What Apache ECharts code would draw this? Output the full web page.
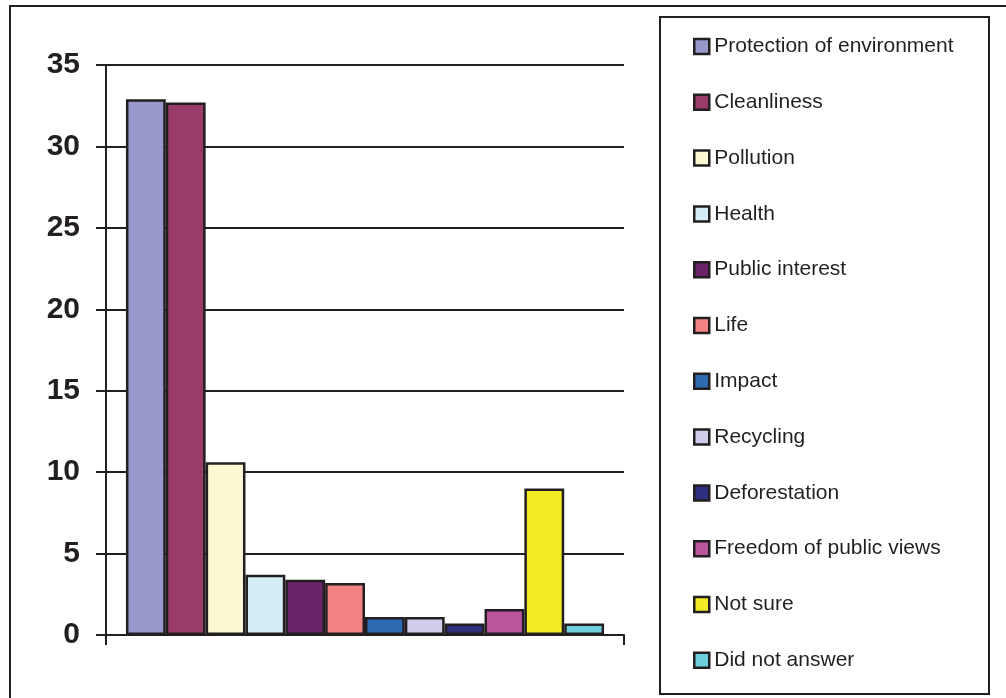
<!DOCTYPE html>
<html>
<head>
<meta charset="utf-8">
<title>Survey answers</title>
<script src="https://cdn.jsdelivr.net/npm/echarts@6/dist/echarts.min.js"></script>
<style>
  html, body { margin: 0; padding: 0; background: #fff; }
  #barChart { width: 1006px; height: 698px; }
</style>
</head>
<body>
<div id="barChart"></div>
<script>
const answers = [
  'Protection of environment', 'Cleanliness', 'Pollution', 'Health',
  'Public interest', 'Life', 'Impact', 'Recycling', 'Deforestation',
  'Freedom of public views', 'Not sure', 'Did not answer'
];
const shares = [32.9, 32.7, 10.6, 3.7, 3.4, 3.2, 1.1, 1.1, 0.7, 1.6, 9.0, 0.7];
const barColors = [
  '#9898ca', '#9a3c6a', '#fbf8d2', '#d5eef5', '#6b2369', '#f38282',
  '#2c6ab2', '#cfcde9', '#2e2f7e', '#bb559e', '#f3eb23', '#6ecfdc'
];
const yTicks = [0, 5, 10, 15, 20, 25, 30, 35];

const ink = '#231f20';
const font = '"Liberation Sans", Arial, sans-serif';

const chartDom = document.getElementById('barChart');
const myChart = echarts.init(chartDom);

const option = {
  animation: false,
  textStyle: { fontFamily: font },
  grid: { left: 106, right: 382, top: 65, bottom: 63 },
  legend: {
    orient: 'vertical',
    left: 688,
    top: 31,
    itemWidth: 15,
    itemHeight: 15,
    itemGap: 34.8,
    icon: 'rect',
    data: answers,
    itemStyle: { borderColor: ink, borderWidth: 2.5 },
    textStyle: { fontSize: 21, lineHeight: 21, color: ink, fontFamily: font }
  },
  xAxis: {
    type: 'category',
    data: [''],
    axisLine: { lineStyle: { color: ink, width: 2 } },
    axisTick: { show: true, length: 10, lineStyle: { color: ink, width: 2 } },
    axisLabel: { show: false }
  },
  yAxis: {
    type: 'value',
    min: yTicks[0],
    max: yTicks[yTicks.length - 1],
    interval: 5,
    axisLine: { show: true, lineStyle: { color: ink, width: 2 } },
    axisTick: { show: true, length: 10, lineStyle: { color: ink, width: 2 } },
    axisLabel: {
      margin: 26,
      fontSize: 30,
      fontWeight: 'bold',
      color: ink,
      fontFamily: font
    },
    splitLine: { lineStyle: { color: ink, width: 2 } }
  },
  series: answers.map((name, i) => ({
    name: name,
    type: 'bar',
    barGap: '0%',
    barCategoryGap: '7.7%',
    itemStyle: { color: barColors[i], borderColor: ink, borderWidth: 2.5 },
    data: [shares[i]]
  })),
  graphic: [
    {
      type: 'rect',
      shape: { x: 10, y: 6, width: 1010, height: 710 },
      style: { fill: 'none', stroke: ink, lineWidth: 2 },
      silent: true
    },
    {
      type: 'rect',
      shape: { x: 660, y: 17, width: 329, height: 677 },
      style: { fill: 'none', stroke: ink, lineWidth: 2 },
      silent: true
    }
  ]
};

option && myChart.setOption(option);
</script>
</body>
</html>
